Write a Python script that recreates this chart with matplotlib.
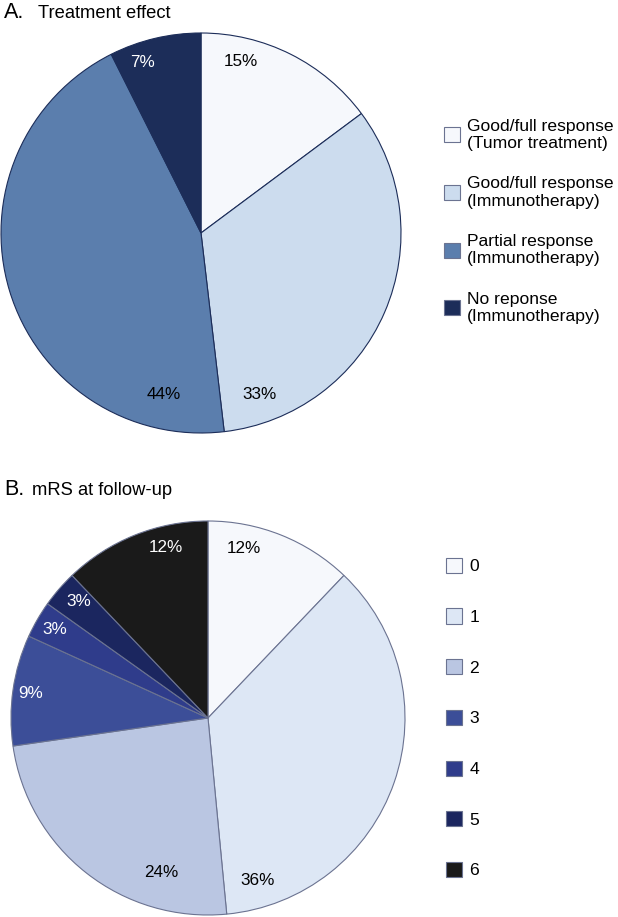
import numpy as np
import matplotlib.pyplot as plt

plt.rcParams['font.family'] = ['Liberation Sans', 'DejaVu Sans']

# panel A: treatment effect (patient counts)
a_labels = ["Good/full response\n(Tumor treatment)", "Good/full response\n(Immunotherapy)",
            "Partial response\n(Immunotherapy)", "No reponse\n(Immunotherapy)"]
a_counts = [4, 9, 12, 2]
a_colors = ["#F6F8FC", "#CCDCEE", "#5B7EAD", "#1C2D59"]
a_txtcol = ["black", "black", "black", "white"]

# panel B: mRS at follow-up (patient counts)
b_labels = ["0", "1", "2", "3", "4", "5", "6"]
b_counts = [4, 12, 8, 3, 1, 1, 4]
b_colors = ["#F6F8FC", "#DDE7F5", "#BAC6E2", "#3C4E98", "#2F3C8B", "#1B265F", "#1A1A1A"]
b_txtcol = ["black", "black", "black", "white", "white", "white", "white"]

# where the percent labels sit (angle in deg, fraction of radius)
a_lab_pos = [(77, 0.88), (-70, 0.86), (-103, 0.83), (109, 0.90)]
b_lab_pos = [(78, 0.88), (-73, 0.86), (-107, 0.82), (172, 0.91), (150, 0.90), (138, 0.88), (104, 0.89)]

W, H = 618, 917
fig = plt.figure(figsize=(W / 100, H / 100), dpi=100)


def px_axes(left, top, size):
    return fig.add_axes([left / W, 1 - (top + size) / H, size / W, size / H])


def draw(ax, counts, colors, edge, txtcol, lab_pos):
    wedges, _ = ax.pie(counts, colors=colors, startangle=90, counterclock=False,
                       wedgeprops=dict(edgecolor=edge, linewidth=0.8))
    ax.set_xlim(-1, 1)
    ax.set_ylim(-1, 1)
    tot = sum(counts)
    for c, col, (ang, r) in zip(counts, txtcol, lab_pos):
        t = np.deg2rad(ang)
        ax.text(r * np.cos(t), r * np.sin(t), "%d%%" % round(100 * c / tot),
                ha="center", va="center", fontsize=12.3, color=col)
    return wedges


axA = px_axes(1, 33, 400)
wA = draw(axA, a_counts, a_colors, "#1C2D59", a_txtcol, a_lab_pos)
axB = px_axes(11, 521, 394)
wB = draw(axB, b_counts, b_colors, "#6B7391", b_txtcol, b_lab_pos)

fig.text(4 / W, 1 - 18 / H, "A.", fontsize=15.5, va="baseline", ha="left")
fig.text(38 / W, 1 - 18 / H, "Treatment effect", fontsize=13.2, va="baseline", ha="left")
fig.text(4 / W, 1 - 495 / H, "B.", fontsize=15.5, va="baseline", ha="left")
fig.text(32 / W, 1 - 495 / H, "mRS at follow-up", fontsize=13.2, va="baseline", ha="left")

legA = fig.legend(wA, a_labels, loc="upper left", bbox_to_anchor=(428 / W, 1 - 103 / H),
                  frameon=False, fontsize=12.6, handlelength=0.95, handleheight=0.95,
                  handletextpad=0.4, labelspacing=1.44)
legB = fig.legend(wB, b_labels, loc="upper left", bbox_to_anchor=(430 / W, 1 - 542 / H),
                  frameon=False, fontsize=12.6, handlelength=0.95, handleheight=0.95,
                  handletextpad=0.4, labelspacing=1.95)
for h in list(legA.legend_handles) + list(legB.legend_handles):
    h.set_edgecolor("#6B7391")
    h.set_linewidth(0.8)

fig.savefig("out.png", dpi=100)
